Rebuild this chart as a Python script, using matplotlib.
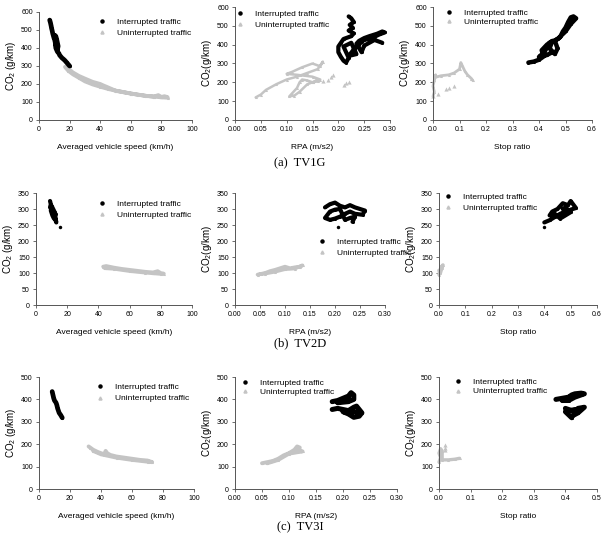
import matplotlib
matplotlib.use("Agg")
import matplotlib.pyplot as plt

plt.rcParams['font.family'] = ['Liberation Sans', 'DejaVu Sans']
plt.rcParams['mathtext.fontset'] = 'custom'
plt.rcParams['mathtext.rm'] = 'Liberation Sans'
plt.rcParams['mathtext.it'] = 'Liberation Sans:italic'

W, H = 602, 533

# ---------------- data ----------------
# Row 1 (TV1G)
r1_spd_int_x = [7, 7.5, 8, 8.2, 8.5, 9, 9.5, 10, 10.5, 11, 11.5, 12, 12.5, 12, 11, 10.5, 11, 12, 13, 13.5, 14, 15, 16, 17, 18, 19, 20]
r1_spd_int_y = [555, 540, 520, 510, 500, 480, 465, 450, 470, 465, 450, 430, 410, 390, 420, 440, 400, 380, 370, 360, 355, 345, 338, 330, 320, 310, 300]
r1_spd_un_x = [17, 19, 22, 26, 30, 35, 40, 45, 50, 55, 60, 65, 70, 75, 78, 80, 82, 84, 84, 80, 75, 70, 60, 50, 44, 42, 40, 35, 30, 26, 22, 20]
r1_spd_un_y = [295, 275, 255, 235, 215, 198, 185, 173, 163, 155, 147, 140, 134, 130, 138, 128, 132, 127, 124, 126, 130, 134, 147, 163, 185, 192, 200, 212, 230, 245, 265, 280]

r1_rpa_int_x = [0.22, 0.225, 0.23, 0.222, 0.228, 0.22, 0.23, 0.225, 0.21, 0.205, 0.20, 0.20, 0.205, 0.21, 0.215, 0.22, 0.215, 0.21, 0.225, 0.23, 0.235, 0.22, 0.23, 0.24, 0.245, 0.25, 0.26, 0.27, 0.28, 0.29, 0.285, 0.275, 0.26, 0.25, 0.24, 0.235, 0.245, 0.25, 0.27, 0.285]
r1_rpa_int_y = [550, 540, 520, 505, 490, 475, 460, 445, 430, 410, 390, 360, 335, 315, 305, 330, 360, 390, 410, 380, 350, 340, 375, 400, 415, 425, 432, 442, 455, 465, 470, 458, 445, 435, 420, 405, 360, 395, 425, 410]
r1_rpa_un_x = [0.04, 0.05, 0.06, 0.08, 0.10, 0.12, 0.14, 0.16, 0.17, 0.165, 0.15, 0.13, 0.11, 0.10, 0.12, 0.15, 0.165, 0.16, 0.15, 0.14, 0.13, 0.125, 0.12, 0.11, 0.105, 0.115, 0.125, 0.14, 0.15, 0.16]
r1_rpa_un_y = [120, 135, 160, 190, 215, 230, 250, 270, 310, 285, 300, 280, 255, 245, 240, 230, 215, 205, 200, 210, 215, 200, 170, 140, 125, 130, 150, 190, 200, 215]
r1_rpa_un2_x = [0.17, 0.18, 0.185, 0.19, 0.21, 0.215, 0.22]
r1_rpa_un2_y = [205, 215, 230, 240, 185, 195, 200]

r1_sr_int_x = [0.36, 0.38, 0.40, 0.42, 0.41, 0.43, 0.45, 0.44, 0.46, 0.47, 0.46, 0.48, 0.49, 0.50, 0.51, 0.52, 0.53, 0.54, 0.52, 0.50, 0.47, 0.44, 0.42, 0.40, 0.43, 0.45]
r1_sr_int_y = [305, 310, 320, 340, 370, 400, 420, 380, 350, 380, 420, 440, 470, 490, 520, 545, 550, 540, 510, 470, 430, 410, 360, 335, 345, 360]
r1_sr_un_x = [0.0, 0.005, 0.0, 0.005, 0.01, 0.005, 0.03, 0.06, 0.08, 0.10, 0.105, 0.11, 0.12, 0.13, 0.145, 0.15]
r1_sr_un_y = [125, 150, 180, 210, 240, 225, 235, 240, 250, 270, 305, 290, 260, 240, 220, 210]
r1_sr_un2_x = [0.0, 0.02, 0.05, 0.06, 0.08]
r1_sr_un2_y = [130, 140, 165, 170, 180]

# Row 2 (TV2D)
r2_spd_int_x = [9, 9.5, 9, 10, 10.5, 11, 11.5, 12, 12.5, 13, 12, 11, 10, 9.5, 10.5, 11.5, 12.5]
r2_spd_int_y = [325, 315, 305, 300, 290, 285, 280, 275, 265, 258, 290, 300, 310, 295, 280, 270, 285]
r2_spd_int2_x = [15.5]
r2_spd_int2_y = [243]
r2_spd_un_x = [43, 45, 50, 55, 60, 65, 70, 75, 78, 80, 82, 80, 75, 70, 60, 50, 44]
r2_spd_un_y = [120, 122, 117, 113, 110, 107, 104, 102, 106, 100, 98, 97, 99, 101, 106, 113, 115]

r2_rpa_int_x = [0.18, 0.19, 0.20, 0.21, 0.22, 0.23, 0.24, 0.25, 0.26, 0.255, 0.24, 0.23, 0.22, 0.21, 0.20, 0.19, 0.18, 0.19, 0.20, 0.21, 0.22, 0.23, 0.24, 0.235]
r2_rpa_int_y = [305, 315, 320, 310, 305, 312, 305, 300, 295, 282, 285, 292, 285, 276, 270, 266, 272, 292, 298, 300, 266, 272, 276, 260]
r2_rpa_int2_x = [0.205]
r2_rpa_int2_y = [245]
r2_rpa_un_x = [0.045, 0.06, 0.07, 0.08, 0.09, 0.10, 0.11, 0.12, 0.13, 0.135, 0.12, 0.10, 0.08, 0.06, 0.05]
r2_rpa_un_y = [95, 100, 106, 110, 115, 120, 115, 118, 120, 124, 114, 112, 104, 98, 97]

r2_sr_int_x = [0.40, 0.42, 0.44, 0.46, 0.48, 0.50, 0.52, 0.50, 0.49, 0.47, 0.45, 0.43, 0.42, 0.44, 0.46, 0.48, 0.50, 0.48, 0.47]
r2_sr_int_y = [258, 265, 275, 285, 292, 298, 303, 325, 312, 318, 300, 292, 280, 285, 270, 280, 290, 305, 300]
r2_sr_int2_x = [0.40]
r2_sr_int2_y = [243]
r2_sr_un_x = [0.0, 0.005, 0.01, 0.015, 0.01, 0.005, 0.0]
r2_sr_un_y = [95, 110, 120, 125, 115, 100, 108]

# Row 3 (TV3I)
r3_spd_int_x = [8.5, 9, 9.5, 10, 10.5, 11, 11.5, 12, 12.5, 13, 14, 15]
r3_spd_int_y = [435, 420, 405, 395, 390, 385, 375, 360, 350, 340, 330, 318]
r3_spd_un_x = [32, 33, 35, 38, 40, 42, 43, 44, 46, 50, 55, 60, 65, 70, 73, 70, 60, 50, 40, 35]
r3_spd_un_y = [190, 185, 175, 165, 160, 155, 170, 160, 152, 145, 140, 135, 130, 127, 120, 122, 130, 140, 155, 170]

r3_rpa_int_x = [0.18, 0.19, 0.20, 0.21, 0.215, 0.22, 0.22, 0.21, 0.19, 0.20, 0.21]
r3_rpa_int_y = [390, 395, 405, 415, 430, 420, 400, 390, 385, 395, 405]
r3_rpa_int2_x = [0.18, 0.19, 0.20, 0.21, 0.22, 0.225, 0.23, 0.235, 0.23, 0.22, 0.21, 0.20, 0.22, 0.23]
r3_rpa_int2_y = [355, 360, 355, 350, 365, 370, 355, 340, 325, 320, 335, 345, 345, 340]
r3_rpa_un_x = [0.05, 0.06, 0.07, 0.08, 0.09, 0.10, 0.11, 0.115, 0.12, 0.11, 0.12, 0.125, 0.10, 0.08, 0.06]
r3_rpa_un_y = [115, 120, 125, 135, 150, 160, 175, 190, 185, 165, 170, 168, 158, 130, 115]

r3_sr_int_x = [0.37, 0.39, 0.41, 0.42, 0.43, 0.45, 0.46, 0.43, 0.41, 0.39, 0.40, 0.42]
r3_sr_int_y = [400, 405, 410, 420, 425, 428, 425, 410, 395, 395, 400, 415]
r3_sr_int2_x = [0.40, 0.41, 0.42, 0.43, 0.44, 0.46, 0.44, 0.42, 0.42, 0.40, 0.43]
r3_sr_int2_y = [360, 355, 350, 345, 360, 365, 340, 325, 318, 345, 355]
r3_sr_un_x = [0.0, 0.005, 0.0, 0.005, 0.01, 0.01, 0.03, 0.05, 0.065]
r3_sr_un_y = [120, 140, 160, 180, 170, 130, 130, 133, 137]
r3_sr_un2_x = [0.02, 0.02, 0.018]
r3_sr_un2_y = [195, 175, 185]

x_labels = ["Averaged vehicle speed (km/h)", "RPA (m/s2)", "Stop ratio"]
captions = ["(a)  TV1G", "(b)  TV2D", "(c)  TV3I"]
legend_labels = ["Interrupted traffic", "Uninterrupted traffic"]

BLACK = "#000000"
GREY = "#c4c4c4"

fig = plt.figure(figsize=(W / 100, H / 100), dpi=100)


def add_ax(xl, xr, yt, yb):
    return fig.add_axes([xl / W, 1 - yb / H, (xr - xl) / W, (yb - yt) / H])


def style(ax, xlim, xticks, xfmt, ylim, yticks, xlabel, ylabel):
    ax.set_xlim(*xlim)
    ax.set_ylim(*ylim)
    ax.set_xticks(xticks)
    ax.set_yticks(yticks)
    ax.set_xticklabels([xfmt.format(v) for v in xticks], fontsize=5)
    ax.set_yticklabels([str(v) for v in yticks], fontsize=5)
    for s in ["top", "right"]:
        ax.spines[s].set_visible(False)
    for s in ["left", "bottom"]:
        ax.spines[s].set_color("#555555")
        ax.spines[s].set_linewidth(0.7)
    ax.tick_params(length=2, width=0.6, color="#555555", pad=2.5)
    ax.set_xlabel(xlabel, fontsize=6, labelpad=8)
    ax.set_ylabel(ylabel, fontsize=7, labelpad=2)
    ax.patch.set_alpha(0)


def series(ax, x, y, color, marker, lw=2.2, ms=2.2):
    ax.plot(x, y, color=color, lw=lw, marker=marker, ms=ms, mew=0,
            solid_joinstyle="round", solid_capstyle="round", clip_on=False)


def pts(ax, x, y, color, marker, ms=2.5):
    ax.plot(x, y, ls="none", color=color, marker=marker, ms=ms, mew=0, clip_on=False)


def legend(ax, px, py, gap):
    h1 = ax.plot([], [], ls="none", marker="o", ms=2.2, color=BLACK)[0]
    h2 = ax.plot([], [], ls="none", marker="^", ms=2.2, color=GREY)[0]
    ax.legend([h1, h2], legend_labels, loc="upper left",
              bbox_to_anchor=((px - 4) / W, 1 - (py - 4.5) / H),
              bbox_transform=fig.transFigure, frameon=False, fontsize=6,
              borderpad=0, borderaxespad=0, handlelength=1.0, handletextpad=1.3,
              labelspacing=gap)


ylab_a = "CO$_2$ (g/km)"
ylab_b = "CO$_2$(g/km)"

# ---------------- Row 1 ----------------
ax = add_ax(39, 192, 12, 120)
series(ax, r1_spd_un_x, r1_spd_un_y, GREY, "^", lw=2.8)
series(ax, r1_spd_int_x, r1_spd_int_y, BLACK, "o", lw=3.4)
style(ax, (0, 100), [0, 20, 40, 60, 80, 100], "{:d}", (0, 600), [0, 100, 200, 300, 400, 500, 600], x_labels[0], ylab_a)
legend(ax, 102, 23, 0.3)

ax = add_ax(235, 390, 7, 120)
series(ax, r1_rpa_un_x, r1_rpa_un_y, GREY, "^", lw=1.8)
pts(ax, r1_rpa_un2_x, r1_rpa_un2_y, GREY, "^", ms=3)
series(ax, r1_rpa_int_x, r1_rpa_int_y, BLACK, "o", lw=3.0)
style(ax, (0, 0.30), [0, 0.05, 0.10, 0.15, 0.20, 0.25, 0.30], "{:.2f}", (0, 600), [0, 100, 200, 300, 400, 500, 600], x_labels[1], ylab_b)
legend(ax, 240, 15, 0.3)

ax = add_ax(433, 592, 7, 120)
series(ax, r1_sr_un_x, r1_sr_un_y, GREY, "^", lw=2.0)
pts(ax, r1_sr_un2_x, r1_sr_un2_y, GREY, "^", ms=3)
series(ax, r1_sr_int_x, r1_sr_int_y, BLACK, "o", lw=3.2)
style(ax, (0, 0.6), [0, 0.1, 0.2, 0.3, 0.4, 0.5, 0.6], "{:.1f}", (0, 600), [0, 100, 200, 300, 400, 500, 600], x_labels[2], ylab_b)
legend(ax, 449, 14, 0.05)

fig.text(300 / W, 1 - 163 / H, captions[0], ha="center", va="center", fontsize=9, family="Liberation Serif")

# ---------------- Row 2 ----------------
ax = add_ax(36, 192, 193, 305)
series(ax, r2_spd_un_x, r2_spd_un_y, GREY, "^", lw=2.6)
series(ax, r2_spd_int_x, r2_spd_int_y, BLACK, "o", lw=3.0)
pts(ax, r2_spd_int2_x, r2_spd_int2_y, BLACK, "o")
style(ax, (0, 100), [0, 20, 40, 60, 80, 100], "{:d}", (0, 350), [0, 50, 100, 150, 200, 250, 300, 350], x_labels[0], ylab_a)
legend(ax, 102, 205, 0.35)

ax = add_ax(235, 385, 193, 305)
series(ax, r2_rpa_un_x, r2_rpa_un_y, GREY, "^", lw=2.6)
series(ax, r2_rpa_int_x, r2_rpa_int_y, BLACK, "o", lw=3.0)
pts(ax, r2_rpa_int2_x, r2_rpa_int2_y, BLACK, "o")
style(ax, (0, 0.30), [0, 0.05, 0.10, 0.15, 0.20, 0.25, 0.30], "{:.2f}", (0, 350), [0, 50, 100, 150, 200, 250, 300, 350], x_labels[1], ylab_b)
legend(ax, 322, 243, 0.35)

ax = add_ax(439, 597, 193, 305)
series(ax, r2_sr_un_x, r2_sr_un_y, GREY, "^", lw=2.6)
series(ax, r2_sr_int_x, r2_sr_int_y, BLACK, "o", lw=3.0)
pts(ax, r2_sr_int2_x, r2_sr_int2_y, BLACK, "o")
style(ax, (0, 0.6), [0, 0.1, 0.2, 0.3, 0.4, 0.5, 0.6], "{:.1f}", (0, 350), [0, 50, 100, 150, 200, 250, 300, 350], x_labels[2], ylab_b)
legend(ax, 448, 198, 0.35)

fig.text(300 / W, 1 - 343 / H, captions[1], ha="center", va="center", fontsize=9, family="Liberation Serif")

# ---------------- Row 3 ----------------
ax = add_ax(39, 194, 377, 489)
series(ax, r3_spd_un_x, r3_spd_un_y, GREY, "^", lw=2.8)
series(ax, r3_spd_int_x, r3_spd_int_y, BLACK, "o", lw=3.4)
style(ax, (0, 100), [0, 20, 40, 60, 80, 100], "{:d}", (0, 500), [0, 100, 200, 300, 400, 500], x_labels[0], ylab_a)
legend(ax, 100, 388, 0.4)

ax = add_ax(235, 397, 377, 489)
series(ax, r3_rpa_un_x, r3_rpa_un_y, GREY, "^", lw=2.8)
series(ax, r3_rpa_int_x, r3_rpa_int_y, BLACK, "o", lw=3.6)
series(ax, r3_rpa_int2_x, r3_rpa_int2_y, BLACK, "o", lw=3.6)
style(ax, (0, 0.30), [0, 0.05, 0.10, 0.15, 0.20, 0.25, 0.30], "{:.2f}", (0, 500), [0, 100, 200, 300, 400, 500], x_labels[1], ylab_b)
legend(ax, 245, 384, 0.15)

ax = add_ax(439, 597, 377, 489)
series(ax, r3_sr_un_x, r3_sr_un_y, GREY, "^", lw=2.4)
pts(ax, r3_sr_un2_x, r3_sr_un2_y, GREY, "^", ms=3)
series(ax, r3_sr_int_x, r3_sr_int_y, BLACK, "o", lw=3.6)
series(ax, r3_sr_int2_x, r3_sr_int2_y, BLACK, "o", lw=3.6)
style(ax, (0, 0.5), [0, 0.1, 0.2, 0.3, 0.4, 0.5], "{:.1f}", (0, 500), [0, 100, 200, 300, 400, 500], x_labels[2], ylab_b)
legend(ax, 458, 383, 0.15)

fig.text(300 / W, 1 - 527 / H, captions[2], ha="center", va="center", fontsize=9, family="Liberation Serif")

fig.savefig("out.png", dpi=100)
